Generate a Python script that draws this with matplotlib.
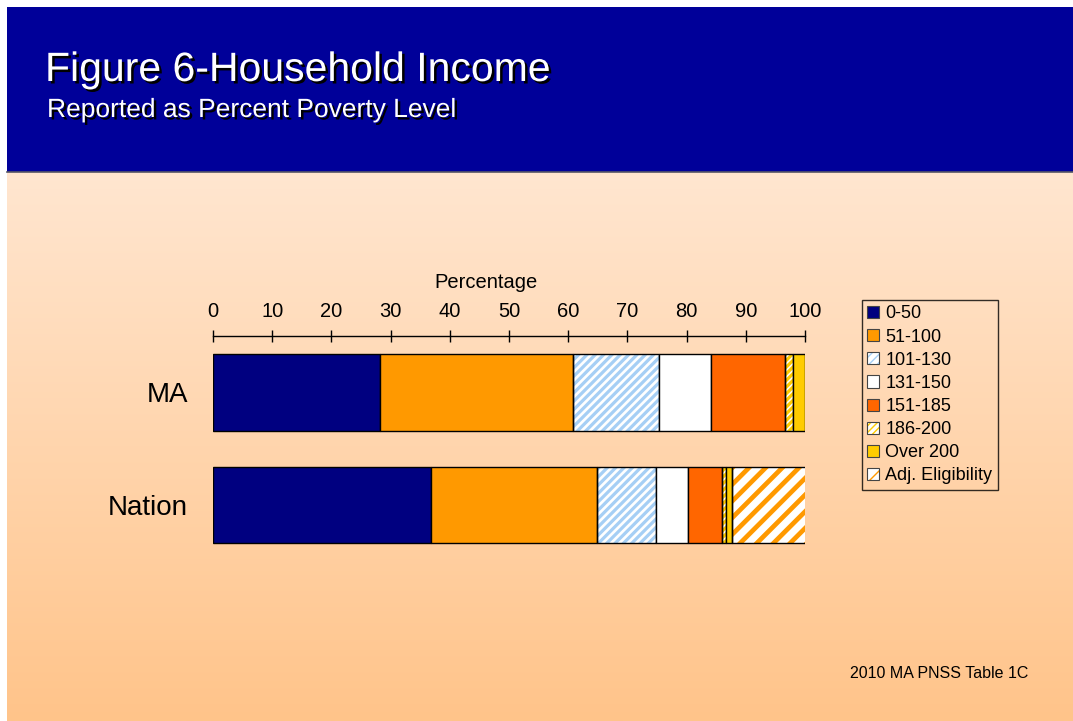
import numpy as np
import matplotlib
matplotlib.use('Agg')
from matplotlib import pyplot as plt
from matplotlib.patches import Patch, Rectangle
import matplotlib.patheffects as pe

plt.rcParams['font.family'] = ['Liberation Sans', 'DejaVu Sans']

# data
groups = ['MA', 'Nation']
categories = ['0-50', '51-100', '101-130', '131-150', '151-185', '186-200', 'Over 200', 'Adj. Eligibility']
ma_values = [28.2, 32.6, 14.5, 8.8, 12.6, 1.3, 2.0, 0.0]
nation_values = [36.8, 28.0, 10.1, 5.3, 5.7, 0.7, 1.1, 12.4]
x_ticks = [0, 10, 20, 30, 40, 50, 60, 70, 80, 90, 100]

# style for each category: face, hatch colour, hatch
styles = [
    ('#000080', None, None),
    ('#FF9900', None, None),
    ('white', '#A6CFF5', '////'),
    ('white', None, None),
    ('#FF6600', None, None),
    ('white', '#FFCC00', '/////'),
    ('#FFCC00', None, None),
    ('white', '#FF9900', '//'),
]

W, H = 1073, 721
fig = plt.figure(figsize=(W / 100, H / 100), dpi=100)
fig.patch.set_facecolor('white')

# background: peach gradient + blue header band
bg = fig.add_axes([0, 0, 1, 1])
bg.set_xlim(0, W)
bg.set_ylim(H, 0)
bg.axis('off')
top = np.array([255, 230, 208]) / 255
bot = np.array([255, 196, 138]) / 255
t = np.linspace(0, 1, 256)[:, None, None]
grad = top * (1 - t) + bot * t
bg.imshow(grad, extent=(7, W, H, 172), aspect='auto', zorder=0)
bg.add_patch(Rectangle((7, 7), W - 7, 165, facecolor='#000099', edgecolor='none', zorder=1))
bg.plot([7, W], [172, 172], color='#555566', lw=1.2, zorder=2)

shadow = [pe.SimplePatchShadow(offset=(1.8, -1.8), shadow_rgbFace='black', alpha=1.0), pe.Normal()]
bg.text(45, 81, 'Figure 6-Household Income', color='white', fontsize=29.5,
        va='baseline', ha='left', path_effects=shadow, zorder=3)
bg.text(47, 117, 'Reported as Percent Poverty Level', color='white', fontsize=19,
        va='baseline', ha='left', path_effects=shadow, zorder=3)
bg.text(1028, 673, '2010 MA PNSS Table 1C', color='black', fontsize=11.5,
        va='center', ha='right', zorder=3)

# main chart
ax = fig.add_axes([213 / W, (H - 560) / H, 592 / W, 224 / H])
ax.patch.set_alpha(0)
rows = [ma_values, nation_values]
ypos = np.arange(len(groups))
bar_h = 0.684
for yi, vals in zip(ypos, rows):
    left = 0.0
    for v, (face, hcol, hatch) in zip(vals, styles):
        if v > 0:
            if hatch:
                b = ax.barh(yi, v, left=left, height=bar_h, color=face,
                            edgecolor=hcol, hatch=hatch, linewidth=0, zorder=2)
                for p in b:
                    try:
                        p.set_hatch_linewidth(3.4 if hatch == '//' else 2.3)
                    except AttributeError:
                        pass
                ax.barh(yi, v, left=left, height=bar_h, color='none',
                        edgecolor='black', linewidth=1.0, zorder=3)
            else:
                ax.barh(yi, v, left=left, height=bar_h, color=face,
                        edgecolor='black', linewidth=1.0, zorder=3)
        left += v

ax.set_xlim(0, 100)
ax.set_ylim(1.489, -0.502)
ax.set_xticks(x_ticks)
ax.xaxis.tick_top()
ax.xaxis.set_label_position('top')
ax.tick_params(axis='x', direction='inout', length=8, width=1, pad=7, labelsize=14.5)
ax.set_xlabel('Percentage', fontsize=14.5, labelpad=10, x=0.461)
ax.set_yticks(ypos)
ax.set_yticklabels(groups, fontsize=20)
ax.tick_params(axis='y', length=0, pad=18)
for s in ['bottom', 'left', 'right']:
    ax.spines[s].set_visible(False)
ax.spines['top'].set_linewidth(1)

# legend
handles = []
for face, hcol, hatch in styles:
    if hatch:
        handles.append((Patch(facecolor=face, edgecolor=hcol, hatch=hatch, linewidth=0),
                        Patch(facecolor='none', edgecolor='#444444', linewidth=0.8)))
    else:
        handles.append(Patch(facecolor=face, edgecolor='#444444', linewidth=0.8))
leg = fig.legend(handles, categories, loc='upper left',
                 bbox_to_anchor=(862 / W, 1 - 300 / H), borderaxespad=0,
                 fontsize=13, frameon=True, fancybox=False, edgecolor='black',
                 handlelength=0.65, handleheight=0.65, handletextpad=0.35,
                 labelspacing=0.34, borderpad=0.3)
leg.get_frame().set_facecolor('none')
leg.get_frame().set_linewidth(1)

fig.savefig('out.png', dpi=100)
